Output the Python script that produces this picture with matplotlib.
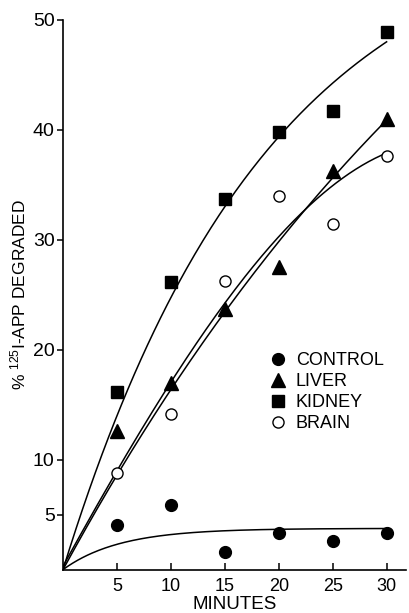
import numpy as np
import matplotlib
matplotlib.use("Agg")
import matplotlib.pyplot as plt

# time points (minutes)
minutes = [5, 10, 15, 20, 25, 30]

# % 125I-APP degraded
control = [4.1, 5.9, 1.6, 3.3, 2.6, 3.3]
liver = [12.6, 17.0, 23.7, 27.5, 36.3, 41.0]
kidney = [16.2, 26.2, 33.7, 39.8, 41.7, 48.9]
brain = [8.8, 14.2, 26.3, 34.0, 31.4, 37.6]

# drawn curves: saturating fits y = a * (1 - exp(-b * t))
control_fit = [3.75, 0.19]
liver_fit = [92.0, 0.0196]
kidney_fit = [60.5, 0.0526]
# brain curve is drawn freehand
brain_curve_t = [0, 5, 10, 15, 20, 25, 30]
brain_curve_y = [0, 9.7, 17.0, 23.5, 30.3, 35.6, 37.6]

xticks = [5, 10, 15, 20, 25, 30]
yticks = [5, 10, 20, 30, 40, 50]

plt.rcParams['font.family'] = ['Liberation Sans', 'DejaVu Sans']
plt.rcParams['mathtext.default'] = 'regular'

fig = plt.figure(figsize=(4.1, 6.13), dpi=100)
ax = fig.add_axes([0.1537, 0.0708, 0.8366, 0.8966])

t = np.linspace(0, 30, 200)
for a, b in (control_fit, liver_fit, kidney_fit):
    ax.plot(t, a * (1 - np.exp(-b * t)), color="black", lw=1.1)
coef = np.polyfit(brain_curve_t, brain_curve_y, 3)
ax.plot(t, np.polyval(coef, t), color="black", lw=1.1)

ax.plot(minutes, control, "o", color="black", ms=8.5, ls="none", label="CONTROL")
ax.plot(minutes, liver, "^", color="black", ms=10, ls="none", label="LIVER")
ax.plot(minutes, kidney, "s", color="black", ms=9, ls="none", label="KIDNEY")
ax.plot(minutes, brain, "o", mfc="white", mec="black", mew=1.0, ms=8,
        ls="none", label="BRAIN")

ax.set_xlim(0, 31.8)
ax.set_ylim(0, 50)
ax.spines["top"].set_visible(False)
ax.spines["right"].set_visible(False)
ax.spines["left"].set_linewidth(1.2)
ax.spines["bottom"].set_linewidth(1.2)

ax.set_xticks(xticks)
ax.set_yticks(yticks)
ax.tick_params(axis="x", direction="in", length=5, width=1.1, labelsize=13, pad=6)
ax.tick_params(axis="y", direction="out", length=4, width=1.1, labelsize=14, pad=2)

ax.set_xlabel("MINUTES", fontsize=13.5, labelpad=1)
ax.set_ylabel("% $^{125}$I-APP DEGRADED", fontsize=12.5, labelpad=3)

ax.legend(loc="upper left", bbox_to_anchor=(0.6, 0.396), frameon=False,
          fontsize=13, handletextpad=0.5, labelspacing=0.22,
          handlelength=1.0, borderpad=0, borderaxespad=0)

fig.savefig("out.png", dpi=100)
